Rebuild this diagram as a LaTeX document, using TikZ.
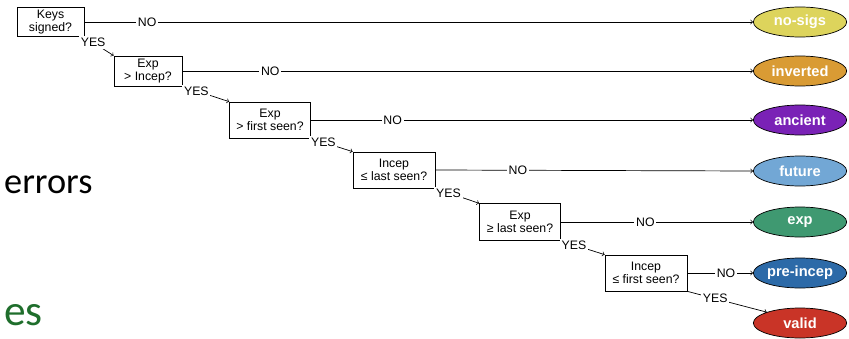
\documentclass[tikz,border=0pt]{standalone}
\usepackage{fontspec}
\setmainfont{Liberation Sans}
\newfontfamily\slidefont{Carlito}
\usetikzlibrary{shapes.geometric}

\definecolor{nosigsCol}{HTML}{DDD45C}
\definecolor{invertedCol}{HTML}{D99B34}
\definecolor{ancientCol}{HTML}{7A22B6}
\definecolor{futureCol}{HTML}{72A7D5}
\definecolor{expCol}{HTML}{3F9971}
\definecolor{preincepCol}{HTML}{2C6AA8}
\definecolor{validCol}{HTML}{C93427}
\definecolor{slideGreen}{HTML}{1F6E2C}

\begin{document}
\begin{tikzpicture}[x=0.03cm, y=-0.03cm,
	check/.style={draw, rectangle, align=center, inner sep=1pt, line width=0.6pt,
	font=\fontsize{10.5}{11.5}\selectfont},
	result/.style={draw, ellipse, text=white, inner sep=0pt, line width=0.6pt,
	minimum width=2.8cm, minimum height=0.9cm, font=\fontsize{12.5}{13}\selectfont\bfseries},
	answer/.style={fill=white, inner sep=1.5pt, font=\fontsize{10.5}{11}\selectfont},
	link/.style={->, line width=0.6pt}]
			
			\useasboundingbox (0,0) rectangle (849,338);
			
			%Slide text behind the tree
			\node (errorsText) at (4,193) [anchor=base west, inner sep=0pt, 
			font=\slidefont\fontsize{31}{31}\selectfont]{errors};
			\node (esText) at (4,325) [anchor=base west, inner sep=0pt, text=slideGreen, 
			font=\slidefont\fontsize{37}{37}\selectfont]{es};
			
			%Checks
			\node (keysSigned) at (50.5,22) [check, minimum width=2.01cm, minimum 
			height=0.87cm]{Keys\\signed?};
			\node (expIncep) at (148,71) [check, minimum width=2.04cm, minimum 
			height=0.9cm]{Exp\\> Incep?};
			\node (expFirst) at (270,120) [check, minimum width=2.43cm, minimum 
			height=1.08cm]{Exp\\> first seen?};
			\node (incepLast) at (394,170) [check, minimum width=2.46cm, minimum 
			height=1.08cm]{Incep\\≤ last seen?};
			\node (expLast) at (520,222) [check, minimum width=2.43cm, minimum 
			height=1.1cm]{Exp\\≥ last seen?};
			\node (incepFirst) at (646,273) [check, minimum width=2.46cm, minimum 
			height=1.08cm]{Incep\\≤ first seen?};
			
			%Results
			\node (noSigs) at (800,22) [result, fill=nosigsCol]{no-sigs};
			\node (inverted) at (800,71) [result, fill=invertedCol]{inverted};
			\node (ancient) at (800,120) [result, fill=ancientCol]{ancient};
			\node (future) at (800,171) [result, fill=futureCol]{future};
			\node (exp) at (800,222) [result, fill=expCol]{exp};
			\node (preIncep) at (800,273) [result, fill=preincepCol]{pre-incep};
			\node (valid) at (800,323) [result, fill=validCol]{valid};
			
			%NO links
			\draw[link] (keysSigned.east) -- node[answer, pos=0.094]{NO} (noSigs.west);
			\draw[link] (expIncep.east) -- node[answer, pos=0.154]{NO} (inverted.west);
			\draw[link] (expFirst.east) -- node[answer, pos=0.185]{NO} (ancient.west);
			\draw[link] (incepLast.east) -- node[answer, pos=0.26]{NO} (future.west);
			\draw[link] (expLast.east) -- node[answer, pos=0.44]{NO} (exp.west);
			\draw[link] (incepFirst.east) -- node[answer, pos=0.59]{NO} (preIncep.west);
			
			%YES links
			\draw[link] (keysSigned.south east) -- node[answer, pos=0.3]{YES} (expIncep.north west);
			\draw[link] (expIncep.south east) -- node[answer, pos=0.3]{YES} (expFirst.north west);
			\draw[link] (expFirst.south east) -- node[answer, pos=0.3]{YES} (incepLast.north west);
			\draw[link] (incepLast.south east) -- node[answer, pos=0.3]{YES} (expLast.north west);
			\draw[link] (expLast.south east) -- node[answer, pos=0.3]{YES} (incepFirst.north west);
			\draw[link] (incepFirst.south east) -- node[answer, pos=0.35]{YES} (valid.north west);
			
\end{tikzpicture}
\end{document}
